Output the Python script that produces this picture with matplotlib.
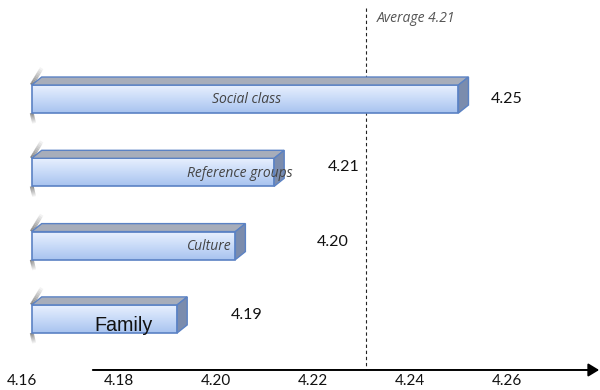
import numpy as np
import matplotlib
matplotlib.use("Agg")
import matplotlib.pyplot as plt
from matplotlib.patches import Polygon
from matplotlib.colors import LinearSegmentedColormap

# Data
categories = ["Social class", "Reference groups", "Culture", "Family"]
values = [4.250, 4.212, 4.204, 4.192]
bar_start = 4.162
average_value = 4.21
average_line = 4.231
ticks = [4.16, 4.18, 4.20, 4.22, 4.24, 4.26]

# layout tweaks (offsets of the labels from the bar end / row centre)
value_label_dx = [0.0100, 0.0144, 0.0201, 0.0144]
value_label_dy = [0.0, -0.075, -0.055, -0.055]
name_label_x = [4.2062, 4.2050, 4.1986, 4.1810]

half = 0.191              # half bar height (category units)
dx, dy = 0.00206, 0.109   # 3d depth

fig = plt.figure(figsize=(6, 3.9), dpi=100)
ax = fig.add_axes([0, 0, 1, 1])

grad = LinearSegmentedColormap.from_list("bar", ["#eaf1fe", "#c9dbf8", "#a8c3ef"])
g = np.linspace(0, 1, 64).reshape(-1, 1)
edge = "#5b82c4"

for i, (cat, v) in enumerate(zip(categories, values)):
    top = i - half
    bot = i + half
    # front face with gradient
    ax.imshow(g, cmap=grad, aspect="auto", origin="upper",
              extent=[bar_start, v, bot, top], zorder=2)
    ax.add_patch(Polygon([(bar_start, top), (v, top), (v, bot), (bar_start, bot)],
                         closed=True, fill=False, edgecolor=edge, lw=1.2, zorder=3))
    # top face
    ax.add_patch(Polygon([(bar_start, top), (v, top), (v + dx, top - dy), (bar_start + dx, top - dy)],
                         closed=True, facecolor="#a7adba", edgecolor=edge, lw=1.0, zorder=3))
    # right side face
    ax.add_patch(Polygon([(v, top), (v + dx, top - dy), (v + dx, bot - dy), (v, bot)],
                         closed=True, facecolor="#7b8cad", edgecolor=edge, lw=1.0, zorder=3))
    # shadow smudges on the left edge
    n = 10
    for k in range(n):
        a = 0.8 * (1 - k / n)
        f0, f1 = k / n, (k + 1) / n
        ax.plot([bar_start + dx * 1.0 * f0, bar_start + dx * 1.0 * f1],
                [top - 0.23 * f0, top - 0.23 * f1],
                color="#666666", alpha=a, lw=2.8, solid_capstyle="butt", zorder=1)
        ax.plot([bar_start + 0.0005 * f0, bar_start + 0.0005 * f1],
                [bot + 0.14 * f0, bot + 0.14 * f1],
                color="#666666", alpha=a, lw=2.8, solid_capstyle="butt", zorder=1)

    # value label
    ax.text(v + value_label_dx[i], i + value_label_dy[i], f"{v:.2f}", ha="center", va="center",
            fontsize=11.5, family="Lato", color="#111111", zorder=4)

    # category label
    if cat == "Family":
        ax.text(name_label_x[i], i + 0.095, cat, ha="center", va="center",
                fontsize=14.2, family="Liberation Sans", color="#111111", zorder=4)
    else:
        ax.text(name_label_x[i], i + 0.01, cat, ha="center", va="center",
                fontsize=10, family="Open Sans", style="italic", color="#444444", zorder=4)

# average line
ax.plot([average_line, average_line], [-1.241, 3.697], color="#222222", lw=0.8,
        ls=(0, (3, 2.5)), zorder=1)
ax.text(average_line + 0.0021, -1.105, f"Average {average_value:.2f}", ha="left", va="center",
        fontsize=10, family="Open Sans", style="italic", color="#555555")

# axis arrow
ax.annotate("", xy=(4.2790, 3.697), xytext=(4.1746, 3.697),
            arrowprops=dict(arrowstyle="-|>,head_length=0.46,head_width=0.28",
                            color="black", lw=1.4, mutation_scale=14, shrinkA=0, shrinkB=0))
for t in ticks:
    ax.text(t, 3.85, f"{t:.2f}", ha="center", va="center", fontsize=11,
            family="Lato", color="#111111")

ax.set_xlim(4.15546, 4.27918)
ax.set_ylim(3.970, -1.3506)
ax.axis("off")

fig.savefig("out.png", dpi=100)
